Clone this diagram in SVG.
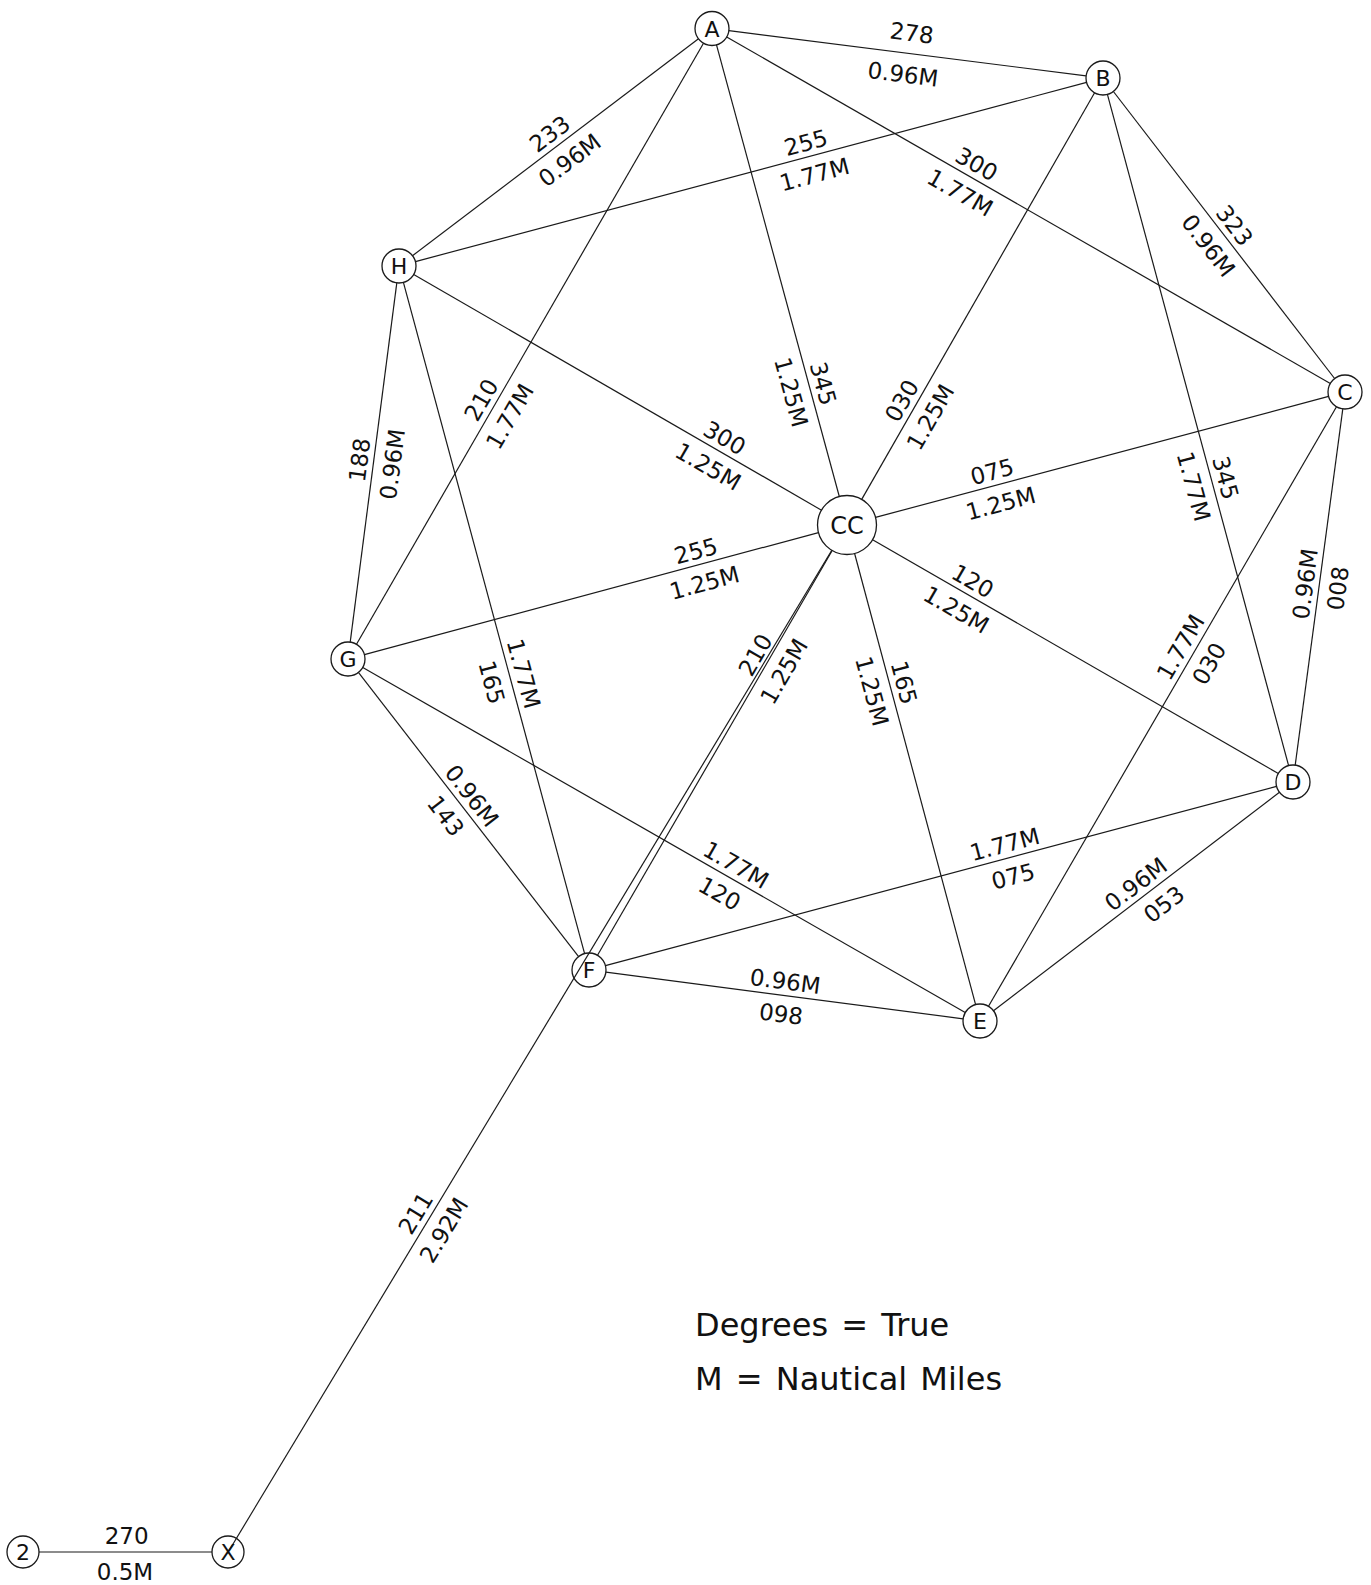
<svg xmlns="http://www.w3.org/2000/svg" width="1371" height="1585" viewBox="0 0 1371 1585">
<style>
.bg{fill:#ffffff}
.edge{stroke:#1a1a1a;stroke-width:1.2;fill:none}
.node{fill:none;stroke:#1a1a1a;stroke-width:1.3}
.nl{font-family:"DejaVu Sans","Liberation Sans",sans-serif;font-size:22px;fill:#111;text-anchor:middle}
.ncc{font-size:24px}
.lbl{font-family:"DejaVu Sans","Liberation Sans",sans-serif;font-size:23px;fill:#111;text-anchor:middle}
.leg{font-family:"DejaVu Sans","Liberation Sans",sans-serif;font-size:32px;fill:#111;word-spacing:3px}
</style>
<rect class="bg" x="0" y="0" width="1371" height="1585"/>
<g id="connectors">
<line class="edge" x1="728.9" y1="30.6" x2="1086.1" y2="75.9"/>
<line class="edge" x1="412.5" y1="255.7" x2="698.5" y2="38.8"/>
<line class="edge" x1="716.5" y1="44.9" x2="839.3" y2="496.5"/>
<line class="edge" x1="356.5" y1="644.3" x2="703.5" y2="43.2"/>
<line class="edge" x1="726.7" y1="37" x2="1330.3" y2="383.5"/>
<line class="edge" x1="415.4" y1="261.6" x2="1086.6" y2="82.4"/>
<line class="edge" x1="1113.4" y1="91.5" x2="1334.6" y2="378.5"/>
<line class="edge" x1="861.7" y1="499.4" x2="1094.6" y2="92.8"/>
<line class="edge" x1="1107.4" y1="94.4" x2="1288.6" y2="765.6"/>
<line class="edge" x1="875.5" y1="517.4" x2="1328.6" y2="396.4"/>
<line class="edge" x1="1295.2" y1="765.2" x2="1342.8" y2="408.8"/>
<line class="edge" x1="872.6" y1="539.7" x2="1278.3" y2="773.5"/>
<line class="edge" x1="854.6" y1="553.5" x2="975.6" y2="1004.6"/>
<line class="edge" x1="597.5" y1="955.3" x2="832.2" y2="550.5"/>
<line class="edge" x1="364.4" y1="654.6" x2="818.5" y2="532.6"/>
<line class="edge" x1="413.7" y1="274.5" x2="821.5" y2="510.2"/>
<line class="edge" x1="988.5" y1="1006.3" x2="1336.5" y2="406.7"/>
<line class="edge" x1="993.5" y1="1010.7" x2="1279.5" y2="792.3"/>
<line class="edge" x1="605.4" y1="965.6" x2="1276.6" y2="786.4"/>
<line class="edge" x1="605.9" y1="972.2" x2="963.1" y2="1018.8"/>
<line class="edge" x1="362.8" y1="667.4" x2="965.2" y2="1012.6"/>
<line class="edge" x1="358.4" y1="672.4" x2="578.6" y2="956.6"/>
<line class="edge" x1="403.4" y1="282.4" x2="584.6" y2="953.6"/>
<line class="edge" x1="350.2" y1="642.1" x2="396.8" y2="282.9"/>
<line class="edge" x1="230" y1="1549" x2="831.8" y2="550.3"/>
<line class="edge" x1="39" y1="1552" x2="212" y2="1552"/>
</g>
<g id="labels">
<g transform="translate(909.1 53.5) rotate(7.2)"><text class="lbl" y="-12.5">278</text></g>
<g transform="translate(905.7 53) rotate(7.2)"><text class="lbl" y="29.5">0.96M</text></g>
<g transform="translate(558.3 145.1) rotate(-37.2)"><text class="lbl" y="-6">233</text><text class="lbl" y="27">0.96M</text></g>
<g transform="translate(809.5 387.2) rotate(74.79)"><text class="lbl" y="-6">345</text><text class="lbl" y="27">1.25M</text></g>
<g transform="translate(493.5 407) rotate(-60)"><text class="lbl" y="-6">210</text><text class="lbl" y="27">1.77M</text></g>
<g transform="translate(969.6 176.4) rotate(29.87)"><text class="lbl" y="-6">300</text><text class="lbl" y="27">1.77M</text></g>
<g transform="translate(809.6 156.3) rotate(-14.95)"><text class="lbl" y="-6">255</text><text class="lbl" y="27">1.77M</text></g>
<g transform="translate(1223.3 234) rotate(52.38)"><text class="lbl" y="-6">323</text><text class="lbl" y="27">0.96M</text></g>
<g transform="translate(914.1 407.8) rotate(-60.2)"><text class="lbl" y="-6">030</text><text class="lbl" y="27">1.25M</text></g>
<g transform="translate(1211.9 481.5) rotate(74.9)"><text class="lbl" y="-6">345</text><text class="lbl" y="27">1.77M</text></g>
<g transform="translate(995.8 485.3) rotate(-14.95)"><text class="lbl" y="-6">075</text><text class="lbl" y="27">1.25M</text></g>
<g transform="translate(1319.2 585.8) rotate(-82.4)"><text class="lbl" y="-6">0.96M</text><text class="lbl" y="27">008</text></g>
<g transform="translate(965.7 593.4) rotate(29.95)"><text class="lbl" y="-6">120</text><text class="lbl" y="27">1.25M</text></g>
<g transform="translate(890.3 686.3) rotate(74.99)"><text class="lbl" y="-6">165</text><text class="lbl" y="27">1.25M</text></g>
<g transform="translate(767.6 662) rotate(-59.9)"><text class="lbl" y="-6">210</text><text class="lbl" y="27">1.25M</text></g>
<g transform="translate(699.6 564.6) rotate(-15.03)"><text class="lbl" y="-6">255</text><text class="lbl" y="27">1.25M</text></g>
<g transform="translate(717.6 450.2) rotate(30.03)"><text class="lbl" y="-6">300</text><text class="lbl" y="27">1.25M</text></g>
<g transform="translate(1192.8 654.2) rotate(-59.87)"><text class="lbl" y="-6">1.77M</text><text class="lbl" y="27">030</text></g>
<g transform="translate(1144.5 895.4) rotate(-37.37)"><text class="lbl" y="-6">0.96M</text></g>
<g transform="translate(1152.5 889.3) rotate(-37.37)"><text class="lbl" y="27">053</text></g>
<g transform="translate(1008.3 858) rotate(-14.95)"><text class="lbl" y="-6">1.77M</text><text class="lbl" y="27">075</text></g>
<g transform="translate(783.4 995.3) rotate(7.43)"><text class="lbl" y="-6">0.96M</text><text class="lbl" y="27">098</text></g>
<g transform="translate(729 877.2) rotate(29.8)"><text class="lbl" y="-6">1.77M</text><text class="lbl" y="27">120</text></g>
<g transform="translate(460.7 804.4) rotate(52.22)"><text class="lbl" y="-6">0.96M</text><text class="lbl" y="27">143</text></g>
<g transform="translate(510 677.3) rotate(74.9)"><text class="lbl" y="-6">1.77M</text><text class="lbl" y="27">165</text></g>
<g transform="translate(373.6 461.7) rotate(-82.6)"><text class="lbl" y="-6">188</text><text class="lbl" y="27">0.96M</text></g>
<g transform="translate(427.8 1220.5) rotate(-58.93)"><text class="lbl" y="-6">211</text><text class="lbl" y="27">2.92M</text></g>
<text class="lbl" x="126.7" y="1543.5">270</text>
<text class="lbl" x="125" y="1580">0.5M</text>
</g>
<g id="node-A"><circle class="node" cx="712" cy="28.5" r="17"/><text class="nl" x="712" y="36.5">A</text></g>
<g id="node-B"><circle class="node" cx="1103" cy="78" r="17"/><text class="nl" x="1103" y="86">B</text></g>
<g id="node-C"><circle class="node" cx="1345" cy="392" r="17"/><text class="nl" x="1345" y="400">C</text></g>
<g id="node-D"><circle class="node" cx="1293" cy="782" r="17"/><text class="nl" x="1293" y="790">D</text></g>
<g id="node-E"><circle class="node" cx="980" cy="1021" r="17"/><text class="nl" x="980" y="1029">E</text></g>
<g id="node-F"><circle class="node" cx="589" cy="970" r="17"/><text class="nl" x="589" y="978">F</text></g>
<g id="node-G"><circle class="node" cx="348" cy="659" r="17"/><text class="nl" x="348" y="667">G</text></g>
<g id="node-H"><circle class="node" cx="399" cy="266" r="17"/><text class="nl" x="399" y="274">H</text></g>
<g id="node-CC"><circle class="node" cx="847" cy="525" r="29.5"/><text class="nl ncc" x="847" y="534">CC</text></g>
<g id="node-X"><circle class="node" cx="228" cy="1552" r="16"/><text class="nl" x="228" y="1560">X</text></g>
<g id="node-2"><circle class="node" cx="23" cy="1552" r="16"/><text class="nl" x="23" y="1560">2</text></g>
<g id="legend">
<text class="leg" x="695" y="1336">Degrees = True</text>
<text class="leg" x="695" y="1390">M = Nautical Miles</text>
</g>
</svg>
